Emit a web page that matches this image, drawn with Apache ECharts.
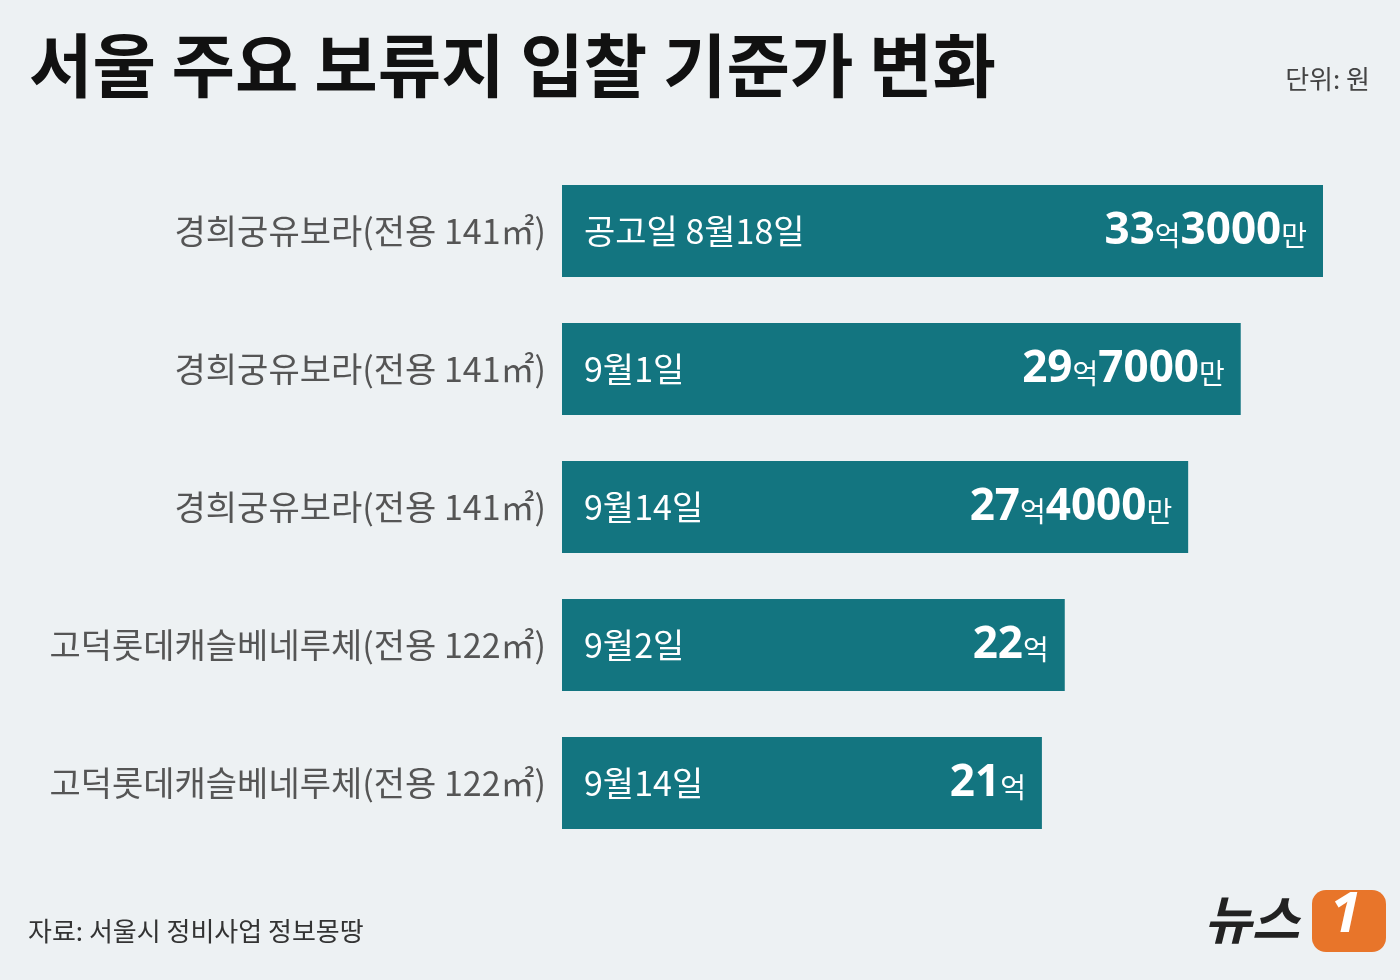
<!DOCTYPE html>
<html><head><meta charset="utf-8">
<script src="https://cdn.jsdelivr.net/npm/echarts@6/dist/echarts.min.js"></script>
<style>html,body{margin:0;padding:0;background:#edf1f3}#c{width:1400px;height:980px}</style>
</head><body><div id="c"></div>
<script>
const categories = ['경희궁유보라(전용 141㎡)','경희궁유보라(전용 141㎡)','경희궁유보라(전용 141㎡)','고덕롯데캐슬베네루체(전용 122㎡)','고덕롯데캐슬베네루체(전용 122㎡)'];
const dates = ['공고일 8월18일','9월1일','9월14일','9월2일','9월14일'];
const values = [33.3, 29.7, 27.4, 22, 21];
const eok = ['33','29','27','22','21'];
const man = ['3000','7000','4000','',''];

const font = '"Noto Sans CJK KR","Noto Sans",sans-serif';
const chart = echarts.init(document.getElementById('c'));
chart.setOption({
  backgroundColor:'#edf1f3',
  animation:false,
  title:{text:'서울 주요 보류지 입찰 기준가 변화',left:24,top:26,
    textStyle:{fontSize:69,fontWeight:'bold',color:'#111',fontFamily:font}},
  grid:{left:562,right:77,top:162,height:690},
  xAxis:{type:'value',min:0,max:33.3,show:false},
  yAxis:{type:'category',data:categories,inverse:true,
    axisLine:{show:false},axisTick:{show:false},
    axisLabel:{margin:16,fontSize:34,color:'#555',fontFamily:font}},
  series:[
    {type:'bar',data:values,barWidth:92,itemStyle:{color:'#137580'},
      label:{show:true,position:'insideRight',distance:16,
        formatter:p=>'{n|'+eok[p.dataIndex]+'}{u|억}'+(man[p.dataIndex]?'{n|'+man[p.dataIndex]+'}{u|만}':''),
        rich:{n:{fontSize:44,fontWeight:'bold',color:'#fff',fontFamily:'"Noto Sans",sans-serif'},
              u:{fontSize:28,color:'#fff',fontFamily:font,padding:[8,0,0,0]}}}},
    {type:'bar',data:values,barWidth:92,barGap:'-100%',itemStyle:{color:'transparent'},
      label:{show:true,position:'insideLeft',distance:22,
        formatter:p=>dates[p.dataIndex],fontSize:34,color:'#fff',fontFamily:font}}
  ],
  graphic:[
    {type:'text',right:30,top:66,style:{text:'단위: 원',fill:'#444',font:'26px '+font}},
    {type:'text',left:28,top:918,style:{text:'자료: 서울시 정비사업 정보몽땅',fill:'#333',font:'26px '+font}},
    {type:'text',left:1204,top:893,style:{text:'뉴스',fill:'#222',font:'italic bold 52px '+font}},
    {type:'rect',left:1312,top:890,shape:{width:74,height:62,r:14},style:{fill:'#e8752a'}},
    {type:'text',left:1330,top:888,style:{text:'1',fill:'#fff',font:'italic bold 56px "Noto Sans",sans-serif'}}
  ]
});
</script></body></html>
